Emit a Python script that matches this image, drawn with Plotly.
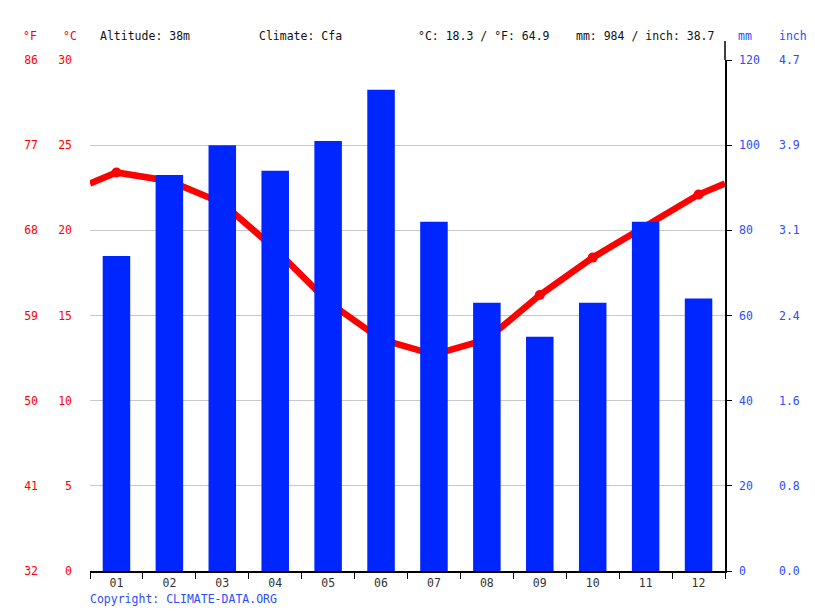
import plotly.graph_objects as go

months = ["01", "02", "03", "04", "05", "06", "07", "08", "09", "10", "11", "12"]
temp_c = [23.4, 22.9, 21.6, 18.9, 15.8, 13.6, 12.7, 13.6, 16.2, 18.4, 20.2, 22.1]
precip_mm = [74, 93, 100, 94, 101, 113, 82, 63, 55, 63, 82, 64]

c_ticks = [0, 5, 10, 15, 20, 25, 30]
f_ticks = ["32", "41", "50", "59", "68", "77", "86"]
mm_ticks = [0, 20, 40, 60, 80, 100, 120]
inch_ticks = ["0.0", "0.8", "1.6", "2.4", "3.1", "3.9", "4.7"]

altitude = "38m"
climate = "Cfa"

RED = "#ff0000"
BLUE = "#0026ff"
BLUE_TXT = "#2b4cff"
FONT = "DejaVu Sans Mono"
FS = 11.5

# page body has an 8px margin; figure coordinates = picture coordinates - 8
OFF = 8
W, H = 815 - OFF, 611 - OFF
L, T = 90 - OFF, 60 - OFF
R = W - (725 - OFF)
B = H - (571 - OFF)
pw, ph = W - L - R, H - T - B


def px(xp):
    return (xp - OFF - L) / pw


def py(yp):
    return (H - B - (yp - OFF)) / ph


xs = list(range(12))
edge = (temp_c[0] + temp_c[-1]) / 2
line_x = [-0.5] + xs + [11.5]
line_y = [edge] + temp_c + [edge]

mean_c = sum(temp_c) / 12
mean_f = mean_c * 9 / 5 + 32
tot_mm = sum(precip_mm)
tot_in = tot_mm / 25.4

fig = go.Figure()
fig.add_trace(go.Bar(x=xs, y=precip_mm, yaxis="y2", marker=dict(color=BLUE, line=dict(width=0)),
                     width=0.52, showlegend=False, hoverinfo="skip"))
fig.add_trace(go.Scatter(x=line_x, y=line_y, yaxis="y", mode="lines", line=dict(color=RED, width=6.5),
                         showlegend=False, hoverinfo="skip"))
fig.add_trace(go.Scatter(x=xs, y=temp_c, yaxis="y", mode="markers", marker=dict(color=RED, size=10),
                         showlegend=False, hoverinfo="skip"))
fig.add_trace(go.Scatter(x=[None], y=[None], yaxis="y3", showlegend=False))
fig.add_trace(go.Scatter(x=[None], y=[None], yaxis="y4", showlegend=False))

fig.update_layout(
    width=W, height=H,
    margin=dict(l=L, r=R, t=T, b=B, autoexpand=False),
    paper_bgcolor="white", plot_bgcolor="white",
    font=dict(family=FONT, size=FS, color="#222"),
    xaxis=dict(range=[-0.5, 11.5], tickvals=xs, ticktext=months, ticks="", showgrid=False,
               zeroline=False, showline=True, linecolor="black", linewidth=1.5, automargin=False,
               tickfont=dict(size=FS, color="#333"),
               minor=dict(tickvals=[i - 0.5 for i in range(13)], ticks="outside", ticklen=6,
                          tickcolor="black", tickwidth=1, showgrid=False)),
    yaxis=dict(range=[0, 30], tickvals=c_ticks, ticks="", showgrid=True, gridcolor="#c8c8c8",
               gridwidth=1, zeroline=False, showline=False, tickfont=dict(color=RED, size=FS),
               ticklabelstandoff=17, layer="below traces", automargin=False),
    yaxis3=dict(range=[0, 30], tickvals=c_ticks, ticktext=f_ticks, overlaying="y", anchor="free",
                position=0, side="left", showgrid=False, zeroline=False, showline=False, ticks="",
                tickfont=dict(color=RED, size=FS), ticklabelstandoff=52, automargin=False),
    yaxis2=dict(range=[0, 120], tickvals=mm_ticks, overlaying="y", side="right", anchor="x",
                showgrid=False, zeroline=False, showline=True, linecolor="black", linewidth=1.5,
                ticks="outside", ticklen=5, tickcolor="black", automargin=False,
                tickfont=dict(color=BLUE_TXT, size=FS), ticklabelstandoff=5),
    yaxis4=dict(range=[0, 120], tickvals=mm_ticks, ticktext=inch_ticks, overlaying="y", side="right",
                anchor="free", position=1, showgrid=False, zeroline=False, showline=False, ticks="",
                tickfont=dict(color=BLUE_TXT, size=FS), ticklabelstandoff=53, automargin=False),
)

ann = []


def add_text(xp, yp, text, color="#111", anchor="left"):
    shift = -2 if anchor == "left" else 2
    ann.append(dict(x=px(xp + shift), y=py(yp), xref="paper", yref="paper", text=text, showarrow=False,
                    xanchor=anchor, yanchor="middle", font=dict(family=FONT, size=FS, color=color)))


add_text(37, 36, "°F", RED, "right")
add_text(77, 36, "°C", RED, "right")
add_text(738, 36, "mm", BLUE_TXT)
add_text(779, 36, "inch", BLUE_TXT)
add_text(100, 36, f"Altitude: {altitude}")
add_text(259, 36, f"Climate: {climate}")
add_text(418, 36, f"°C: {mean_c:.1f} / °F: {mean_f:.1f}")
add_text(576, 36, f"mm: {tot_mm} / inch: {tot_in:.1f}")
add_text(90, 599, "Copyright: CLIMATE-DATA.ORG", BLUE_TXT)
fig.update_layout(annotations=ann)

fig.add_shape(type="line", xref="paper", yref="paper", x0=1, x1=1, y0=1, y1=py(41),
              line=dict(color="black", width=1.5))

fig.write_html("out.html")
